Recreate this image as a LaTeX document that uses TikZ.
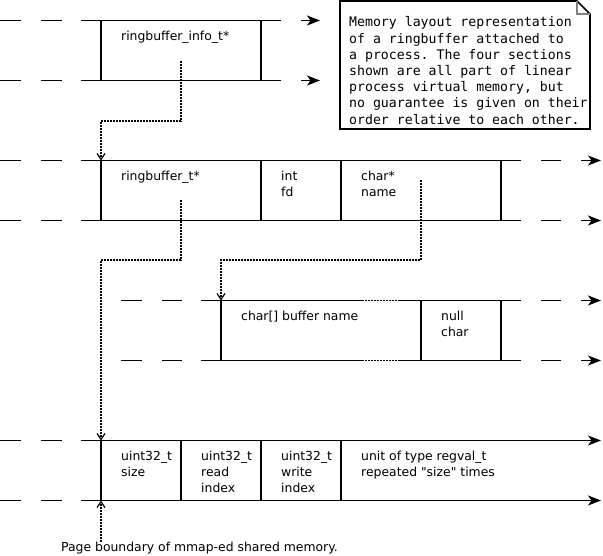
\documentclass[tikz,border=0pt]{standalone}
\usepackage{fontspec}
\setmainfont{DejaVu Sans}[Ligatures=TeXOff]
\setmonofont{DejaVu Sans Mono}
\usetikzlibrary{arrows.meta,calc}
\tikzset{
  rail/.style={line width=1.8pt},
  wall/.style={line width=1.8pt},
  gapline/.style={rail,dash pattern=on 21pt off 20pt},
  dotline/.style={line width=1.5pt,dash pattern=on 2pt off 1pt},
  headarr/.style={rail,-{Stealth[length=13pt,width=10pt,inset=3.5pt]}},
  ptr/.style={dotline,-{Straight Barb[length=6pt,width=8pt,line width=1.2pt]}},
  lbl/.style={anchor=north west,inner sep=0pt,align=left,font=\fontsize{12.4}{16}\selectfont},
  notebox/.style={draw,line width=1.6pt,fill=white},
  fold/.style={draw=gray,line width=1.2pt},
  notetext/.style={anchor=north west,inner sep=0pt,align=left,font=\ttfamily\fontsize{13.2}{16.2}\selectfont}
}
\begin{document}
\begin{tikzpicture}[x=1pt,y=-1pt]
\useasboundingbox (0,0) rectangle (603,555);

% note
\draw[notebox] (340,1) -- (577,1) -- (590,14) -- (590,129) -- (340,129) -- cycle;
\draw[fold] (577,1) |- (590,14);
\node[notetext] (memo) at (349,16.6) {Memory layout representation\\of a ringbuffer attached to\\a process. The four sections\\shown are all part of linear\\process virtual memory, but\\no guarantee is given on their\\order relative to each other.};

% row 1: ringbuffer_info_t*
\foreach \y in {20.5,80.5} {
  \draw[gapline] (0,\y) -- (62,\y);
  \draw[rail] (81,\y) -- (281,\y);
  \draw[headarr] (301,\y) -- (320,\y);
}
\foreach \x in {101,261} \draw[wall] (\x,20.5) -- (\x,80.5);
\node[lbl] (info) at (121,31) {ringbuffer\_info\_t*};
\coordinate (infoptr) at (181,61);

% row 2: ringbuffer_t
\foreach \y in {160.5,220.5} {
  \draw[gapline] (0,\y) -- (62,\y);
  \draw[rail] (81,\y) -- (521,\y);
  \draw[rail] (541,\y) -- (561,\y);
  \draw[headarr] (581,\y) -- (601,\y);
}
\foreach \x in {101,261,341,501} \draw[wall] (\x,160.5) -- (\x,220.5);
\coordinate (rb) at (101,160.5);
\node[lbl] (rbuf) at (121,171) {ringbuffer\_t*};
\node[lbl] (fd) at (281,171) {int\\fd};
\node[lbl] (name) at (361,171) {char*\\name};
\coordinate (rbptr) at (181,200);
\coordinate (nameptr) at (421,180);

% row 3: buffer name
\foreach \y in {300.5,360.5} {
  \draw[gapline] (121,\y) -- (182,\y);
  \draw[rail] (201,\y) -- (362,\y);
  \draw[dotline] (362,\y) -- (400,\y);
  \draw[rail] (400,\y) -- (521,\y);
  \draw[rail] (541,\y) -- (561,\y);
  \draw[headarr] (581,\y) -- (601,\y);
}
\foreach \x in {221,421,501} \draw[wall] (\x,300.5) -- (\x,360.5);
\coordinate (bn) at (221,300.5);
\node[lbl] (bufname) at (241,311) {char[] buffer name};
\node[lbl] (nullch) at (441,311) {null\\char};

% row 4: shared memory
\foreach \y in {440.5,500.5} {
  \draw[gapline] (0,\y) -- (62,\y);
  \draw[headarr] (81,\y) -- (601,\y);
}
\foreach \x in {101,181,261,341} \draw[wall] (\x,440.5) -- (\x,500.5);
\coordinate (sh) at (101,440.5);
\coordinate (shb) at (101,500.5);
\node[lbl] (size) at (121,451) {uint32\_t\\size};
\node[lbl] (rdidx) at (201,451) {uint32\_t\\read\\index};
\node[lbl] (wridx) at (281,451) {uint32\_t\\write\\index};
\node[lbl] (units) at (361,451) {unit of type regval\_t\\repeated "size" times};
\node[lbl] (page) at (61,541.5) {Page boundary of mmap-ed shared memory.};

% pointers
\draw[ptr] (infoptr) -- ++(0,60) -| (rb);
\draw[ptr] (rbptr) -- ++(0,60) -| (sh);
\draw[ptr] (nameptr) -- ++(0,80) -| (bn);
\draw[ptr] (page.north -| shb) -- (shb);
\end{tikzpicture}
\end{document}
